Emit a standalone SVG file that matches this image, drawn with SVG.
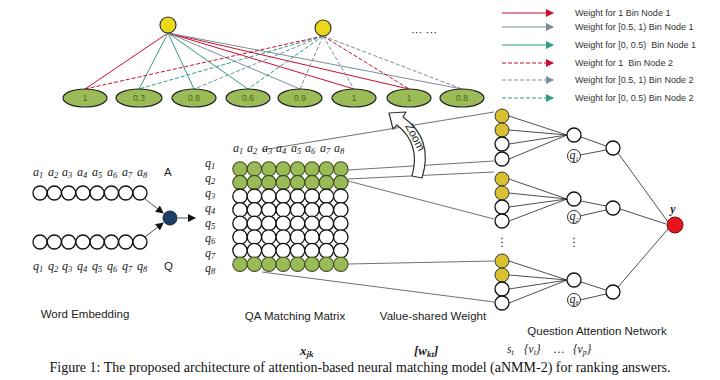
<svg xmlns="http://www.w3.org/2000/svg" width="720" height="380" viewBox="0 0 720 380">
<defs>
<marker id="mr" markerWidth="8" markerHeight="8" refX="7" refY="4" orient="auto" markerUnits="userSpaceOnUse"><path d="M0,0 L8,4 L0,8 z" fill="#c8102e"/></marker>
<marker id="mg" markerWidth="8" markerHeight="8" refX="7" refY="4" orient="auto" markerUnits="userSpaceOnUse"><path d="M0,0 L8,4 L0,8 z" fill="#7a8ea0"/></marker>
<marker id="mt" markerWidth="8" markerHeight="8" refX="7" refY="4" orient="auto" markerUnits="userSpaceOnUse"><path d="M0,0 L8,4 L0,8 z" fill="#2f9e80"/></marker>
<marker id="mk" markerWidth="8" markerHeight="8" refX="7" refY="4" orient="auto" markerUnits="userSpaceOnUse"><path d="M0,0 L8,4 L0,8 z" fill="#111"/></marker>
</defs>
<style>
.lab{font-family:"Liberation Sans","DejaVu Sans",sans-serif;font-size:11.5px;fill:#222}
.leg{font-family:"Liberation Sans","DejaVu Sans",sans-serif;font-size:9px;fill:#333}
.m{font-family:"Liberation Serif","DejaVu Serif",serif;font-style:italic;font-size:12px;fill:#222}
.cap{font-family:"Liberation Serif","DejaVu Serif",serif;font-size:14px;fill:#111}
.ell{fill:#9bbb59;stroke:#222;stroke-width:1.2}
.elt{font-family:"Liberation Sans",sans-serif;font-size:8.5px;fill:#4a6a10;text-anchor:middle}
.yel{fill:#ecd81a;stroke:#333;stroke-width:1.2}
.gold{fill:#d8c030;stroke:#333;stroke-width:1}
.wc{fill:#fff;stroke:#111;stroke-width:1.3}
.gc{fill:#9bbb59;stroke:#3d4f1e;stroke-width:1.1}
.r{stroke:#c8102e;stroke-width:1;fill:none}
.g{stroke:#7a8ea0;stroke-width:1;fill:none}
.t{stroke:#2f9e80;stroke-width:1;fill:none}
.d{stroke-dasharray:4,2}
.k{stroke:#222;stroke-width:0.8;fill:none}
.kz{stroke:#333;stroke-width:0.7;fill:none}
</style>
<rect width="720" height="380" fill="#fff"/>

<!-- connectors -->
<g id="connectors">
<!-- bin node 1 edges -->
<line class="r" x1="168" y1="33" x2="85" y2="89"/>
<line class="t" x1="168" y1="33" x2="139" y2="89"/>
<line class="t" x1="168" y1="33" x2="194" y2="89"/>
<line class="t" x1="168" y1="33" x2="248" y2="89"/>
<line class="g" x1="168" y1="33" x2="300" y2="89"/>
<line class="r" x1="168" y1="33" x2="354" y2="89"/>
<line class="r" x1="168" y1="33" x2="409" y2="89"/>
<line class="g" x1="168" y1="33" x2="462" y2="89"/>
<!-- bin node 2 edges -->
<line class="r d" x1="323" y1="36" x2="85" y2="89"/>
<line class="t d" x1="323" y1="36" x2="139" y2="89"/>
<line class="g d" x1="323" y1="36" x2="194" y2="89"/>
<line class="t d" x1="323" y1="36" x2="248" y2="89"/>
<line class="g d" x1="323" y1="36" x2="300" y2="89"/>
<line class="g d" x1="323" y1="36" x2="354" y2="89"/>
<line class="r d" x1="323" y1="36" x2="409" y2="89"/>
<line class="g d" x1="323" y1="36" x2="462" y2="89"/>

<!-- legend -->
<line class="r" x1="502" y1="13" x2="553" y2="13" marker-end="url(#mr)"/>
<line class="g" x1="502" y1="27" x2="553" y2="27" marker-end="url(#mg)"/>
<line class="t" x1="502" y1="45" x2="553" y2="45" marker-end="url(#mt)"/>
<line class="r d" x1="502" y1="63" x2="553" y2="63" marker-end="url(#mr)"/>
<line class="g d" x1="502" y1="80" x2="553" y2="80" marker-end="url(#mg)"/>
<line class="t d" x1="502" y1="98" x2="553" y2="98" marker-end="url(#mt)"/>

<!-- word embedding to matching -->
<line class="k" x1="145" y1="199" x2="163" y2="213" marker-end="url(#mk)"/>
<line class="k" x1="145" y1="237" x2="163" y2="223" marker-end="url(#mk)"/>
<line class="k" x1="178" y1="218" x2="195" y2="218" marker-end="url(#mk)"/>

<!-- zoom lines -->
<line class="kz" x1="262" y1="150" x2="494" y2="112"/>
<line class="kz" x1="348" y1="170" x2="494" y2="161"/>
<line class="kz" x1="348" y1="179" x2="494" y2="172"/>
<line class="kz" x1="348" y1="181" x2="494" y2="219"/>
<line class="kz" x1="348" y1="264" x2="494" y2="261"/>
<line class="kz" x1="262" y1="272" x2="494" y2="302"/>

<!-- attention network -->
<g class="k">
<line x1="509" y1="116" x2="567" y2="135"/><line x1="509" y1="130" x2="567" y2="135"/><line x1="509" y1="144" x2="567" y2="135"/><line x1="509" y1="159" x2="567" y2="135"/>
<line x1="509" y1="179" x2="567" y2="199"/><line x1="509" y1="193" x2="567" y2="199"/><line x1="509" y1="207" x2="567" y2="199"/><line x1="509" y1="221" x2="567" y2="199"/>
<line x1="509" y1="261" x2="567" y2="280"/><line x1="509" y1="275" x2="567" y2="280"/><line x1="509" y1="289" x2="567" y2="280"/><line x1="509" y1="303" x2="567" y2="280"/>
<line x1="581" y1="137" x2="606" y2="146"/><line x1="580" y1="155" x2="606" y2="150"/>
<line x1="581" y1="201" x2="606" y2="206"/><line x1="580" y1="216" x2="606" y2="210"/>
<line x1="581" y1="282" x2="606" y2="290"/><line x1="580" y1="300" x2="606" y2="294"/>
<line x1="618" y1="153" x2="668" y2="222"/>
<line x1="620" y1="209" x2="666" y2="224"/>
<line x1="618" y1="287" x2="668" y2="229"/>
</g>
</g>

<!-- top bin nodes -->
<g id="bin1"><circle class="yel" cx="168" cy="25" r="8"/></g>
<g id="bin2"><circle class="yel" cx="323" cy="28" r="8"/></g>
<g id="more"><text class="lab" x="424" y="36" text-anchor="middle" font-size="9">··· ···</text></g>

<!-- ellipses -->
<g id="ellipses">
<ellipse class="ell" cx="85" cy="98" rx="22" ry="9"/><text class="elt" x="85" y="101">1</text>
<ellipse class="ell" cx="139" cy="98" rx="23" ry="9"/><text class="elt" x="139" y="101">0.3</text>
<ellipse class="ell" cx="194" cy="98" rx="22" ry="9"/><text class="elt" x="194" y="101">0.8</text>
<ellipse class="ell" cx="248" cy="98" rx="22" ry="9"/><text class="elt" x="248" y="101">0.6</text>
<ellipse class="ell" cx="300" cy="98" rx="22" ry="9"/><text class="elt" x="300" y="101">0.9</text>
<ellipse class="ell" cx="354" cy="98" rx="22" ry="9"/><text class="elt" x="354" y="101">1</text>
<ellipse class="ell" cx="409" cy="98" rx="22" ry="9"/><text class="elt" x="409" y="101">1</text>
<ellipse class="ell" cx="462" cy="98" rx="22" ry="9"/><text class="elt" x="462" y="101">0.8</text>
</g>

<!-- legend texts -->
<g id="legend">
<text class="leg" x="575" y="16">Weight for 1 Bin Node 1</text>
<text class="leg" x="575" y="30">Weight for [0.5, 1) Bin Node 1</text>
<text class="leg" x="575" y="48" xml:space="preserve">Weight for [0, 0.5)  Bin Node 1</text>
<text class="leg" x="575" y="66" xml:space="preserve">Weight for 1  Bin Node 2</text>
<text class="leg" x="575" y="83">Weight for [0.5, 1) Bin Node 2</text>
<text class="leg" x="575" y="101">Weight for [0, 0.5) Bin Node 2</text>
</g>

<!-- word embedding -->
<g id="word-embedding">
<g class="m">
<text x="33" y="176">a<tspan font-size="8.5" dy="2">1</tspan></text>
<text x="48" y="176">a<tspan font-size="8.5" dy="2">2</tspan></text>
<text x="62" y="176">a<tspan font-size="8.5" dy="2">3</tspan></text>
<text x="77" y="176">a<tspan font-size="8.5" dy="2">4</tspan></text>
<text x="92" y="176">a<tspan font-size="8.5" dy="2">5</tspan></text>
<text x="107" y="176">a<tspan font-size="8.5" dy="2">6</tspan></text>
<text x="122" y="176">a<tspan font-size="8.5" dy="2">7</tspan></text>
<text x="137" y="176">a<tspan font-size="8.5" dy="2">8</tspan></text>
<text x="33" y="270">q<tspan font-size="8.5" dy="2">1</tspan></text>
<text x="48" y="270">q<tspan font-size="8.5" dy="2">2</tspan></text>
<text x="62" y="270">q<tspan font-size="8.5" dy="2">3</tspan></text>
<text x="77" y="270">q<tspan font-size="8.5" dy="2">4</tspan></text>
<text x="92" y="270">q<tspan font-size="8.5" dy="2">5</tspan></text>
<text x="107" y="270">q<tspan font-size="8.5" dy="2">6</tspan></text>
<text x="122" y="270">q<tspan font-size="8.5" dy="2">7</tspan></text>
<text x="137" y="270">q<tspan font-size="8.5" dy="2">8</tspan></text>
</g>
<text class="lab" x="164" y="176">A</text>
<text class="lab" x="164" y="270">Q</text>
<g class="wc">
<circle cx="40" cy="193" r="7"/><circle cx="54.3" cy="193" r="7"/><circle cx="68.6" cy="193" r="7"/><circle cx="82.9" cy="193" r="7"/><circle cx="97.1" cy="193" r="7"/><circle cx="111.4" cy="193" r="7"/><circle cx="125.7" cy="193" r="7"/><circle cx="140" cy="193" r="7"/>
<circle cx="40" cy="242" r="7"/><circle cx="54.3" cy="242" r="7"/><circle cx="68.6" cy="242" r="7"/><circle cx="82.9" cy="242" r="7"/><circle cx="97.1" cy="242" r="7"/><circle cx="111.4" cy="242" r="7"/><circle cx="125.7" cy="242" r="7"/><circle cx="140" cy="242" r="7"/>
</g>
<text class="lab" x="85" y="318" text-anchor="middle">Word Embedding</text>
</g>
<g id="interaction"><circle cx="170" cy="218" r="7" fill="#1f3f66" stroke="#10243c" stroke-width="1"/></g>

<!-- matching matrix -->
<g id="matrix">
<g class="m">
<text x="233" y="152">a<tspan font-size="8.5" dy="2">1</tspan></text>
<text x="247" y="152">a<tspan font-size="8.5" dy="2">2</tspan></text>
<text x="262" y="152">a<tspan font-size="8.5" dy="2">3</tspan></text>
<text x="276" y="152">a<tspan font-size="8.5" dy="2">4</tspan></text>
<text x="291" y="152">a<tspan font-size="8.5" dy="2">5</tspan></text>
<text x="305" y="152">a<tspan font-size="8.5" dy="2">6</tspan></text>
<text x="320" y="152">a<tspan font-size="8.5" dy="2">7</tspan></text>
<text x="334" y="152">a<tspan font-size="8.5" dy="2">8</tspan></text>
<text x="205" y="167">q<tspan font-size="8.5" dy="2">1</tspan></text>
<text x="205" y="182">q<tspan font-size="8.5" dy="2">2</tspan></text>
<text x="205" y="197">q<tspan font-size="8.5" dy="2">3</tspan></text>
<text x="205" y="212">q<tspan font-size="8.5" dy="2">4</tspan></text>
<text x="205" y="227">q<tspan font-size="8.5" dy="2">5</tspan></text>
<text x="205" y="242">q<tspan font-size="8.5" dy="2">6</tspan></text>
<text x="205" y="257">q<tspan font-size="8.5" dy="2">7</tspan></text>
<text x="205" y="272">q<tspan font-size="8.5" dy="2">8</tspan></text>
</g>
<g class="gc">
<circle cx="240" cy="169" r="7.2"/><circle cx="254.4" cy="169" r="7.2"/><circle cx="268.8" cy="169" r="7.2"/><circle cx="283.2" cy="169" r="7.2"/><circle cx="297.6" cy="169" r="7.2"/><circle cx="312" cy="169" r="7.2"/><circle cx="326.4" cy="169" r="7.2"/><circle cx="340.8" cy="169" r="7.2"/>
<circle cx="240" cy="182.6" r="7.2"/><circle cx="254.4" cy="182.6" r="7.2"/><circle cx="268.8" cy="182.6" r="7.2"/><circle cx="283.2" cy="182.6" r="7.2"/><circle cx="297.6" cy="182.6" r="7.2"/><circle cx="312" cy="182.6" r="7.2"/><circle cx="326.4" cy="182.6" r="7.2"/><circle cx="340.8" cy="182.6" r="7.2"/>
</g>
<g class="wc">
<circle cx="240" cy="196.2" r="7.2"/><circle cx="254.4" cy="196.2" r="7.2"/><circle cx="268.8" cy="196.2" r="7.2"/><circle cx="283.2" cy="196.2" r="7.2"/><circle cx="297.6" cy="196.2" r="7.2"/><circle cx="312" cy="196.2" r="7.2"/><circle cx="326.4" cy="196.2" r="7.2"/><circle cx="340.8" cy="196.2" r="7.2"/>
<circle cx="240" cy="209.8" r="7.2"/><circle cx="254.4" cy="209.8" r="7.2"/><circle cx="268.8" cy="209.8" r="7.2"/><circle cx="283.2" cy="209.8" r="7.2"/><circle cx="297.6" cy="209.8" r="7.2"/><circle cx="312" cy="209.8" r="7.2"/><circle cx="326.4" cy="209.8" r="7.2"/><circle cx="340.8" cy="209.8" r="7.2"/>
<circle cx="240" cy="223.4" r="7.2"/><circle cx="254.4" cy="223.4" r="7.2"/><circle cx="268.8" cy="223.4" r="7.2"/><circle cx="283.2" cy="223.4" r="7.2"/><circle cx="297.6" cy="223.4" r="7.2"/><circle cx="312" cy="223.4" r="7.2"/><circle cx="326.4" cy="223.4" r="7.2"/><circle cx="340.8" cy="223.4" r="7.2"/>
<circle cx="240" cy="237" r="7.2"/><circle cx="254.4" cy="237" r="7.2"/><circle cx="268.8" cy="237" r="7.2"/><circle cx="283.2" cy="237" r="7.2"/><circle cx="297.6" cy="237" r="7.2"/><circle cx="312" cy="237" r="7.2"/><circle cx="326.4" cy="237" r="7.2"/><circle cx="340.8" cy="237" r="7.2"/>
<circle cx="240" cy="250.6" r="7.2"/><circle cx="254.4" cy="250.6" r="7.2"/><circle cx="268.8" cy="250.6" r="7.2"/><circle cx="283.2" cy="250.6" r="7.2"/><circle cx="297.6" cy="250.6" r="7.2"/><circle cx="312" cy="250.6" r="7.2"/><circle cx="326.4" cy="250.6" r="7.2"/><circle cx="340.8" cy="250.6" r="7.2"/>
</g>
<g class="gc">
<circle cx="240" cy="264.2" r="7.2"/><circle cx="254.4" cy="264.2" r="7.2"/><circle cx="268.8" cy="264.2" r="7.2"/><circle cx="283.2" cy="264.2" r="7.2"/><circle cx="297.6" cy="264.2" r="7.2"/><circle cx="312" cy="264.2" r="7.2"/><circle cx="326.4" cy="264.2" r="7.2"/><circle cx="340.8" cy="264.2" r="7.2"/>
</g>
<text class="lab" x="295" y="320" text-anchor="middle">QA Matching Matrix</text>
</g>

<!-- zoom arrow -->
<g id="zoom">
<path d="M389,113 L406,112 L403,117 Q434,139 422,178 L412,176 Q421,144 397,125 L393,129 Z" fill="#fff" stroke="#333" stroke-width="1.2" stroke-linejoin="round"/>
<text class="lab" font-size="8.5" transform="translate(405,126) rotate(62)">Zoom</text>
</g>
<text class="lab" x="433" y="320" text-anchor="middle">Value-shared Weight</text>

<!-- value-shared weight columns -->
<g id="vsw1">
<circle class="gold" cx="502" cy="116" r="7"/><circle class="gold" cx="502" cy="130" r="7"/><circle class="wc" cx="502" cy="144" r="7"/><circle class="wc" cx="502" cy="159" r="7"/>
</g>
<g id="vsw2">
<circle class="gold" cx="502" cy="179" r="7"/><circle class="gold" cx="502" cy="193" r="7"/><circle class="wc" cx="502" cy="207" r="7"/><circle class="wc" cx="502" cy="221" r="7"/>
</g>
<g id="vsw8">
<circle class="gold" cx="502" cy="261" r="7"/><circle class="gold" cx="502" cy="275" r="7"/><circle class="wc" cx="502" cy="289" r="7"/><circle class="wc" cx="502" cy="303" r="7"/>
</g>
<text class="lab" x="502" y="246" text-anchor="middle" font-size="11">⋮</text>
<text class="lab" x="574" y="246" text-anchor="middle" font-size="11">⋮</text>

<!-- attention network nodes -->
<g id="h1"><circle class="wc" cx="574" cy="135" r="7"/></g>
<g id="h2"><circle class="wc" cx="574" cy="199" r="7"/></g>
<g id="h8"><circle class="wc" cx="574" cy="280" r="7"/></g>
<g id="gq1"><circle cx="574" cy="156" r="6.5" fill="#fff" stroke="#333" stroke-width="1"/><text class="m" x="574" y="159" font-size="8" text-anchor="middle">q<tspan font-size="6" dy="1.5">1</tspan></text></g>
<g id="gq2"><circle cx="574" cy="217" r="6.5" fill="#fff" stroke="#333" stroke-width="1"/><text class="m" x="574" y="220" font-size="8" text-anchor="middle">q<tspan font-size="6" dy="1.5">2</tspan></text></g>
<g id="gq8"><circle cx="574" cy="300" r="6.5" fill="#fff" stroke="#333" stroke-width="1"/><text class="m" x="574" y="303" font-size="8" text-anchor="middle">q<tspan font-size="6" dy="1.5">8</tspan></text></g>
<g id="o1"><circle class="wc" cx="613" cy="148" r="7"/></g>
<g id="o2"><circle class="wc" cx="613" cy="208" r="7"/></g>
<g id="o8"><circle class="wc" cx="613" cy="292" r="7"/></g>
<g id="y"><circle cx="675" cy="225" r="8" fill="#e8141e" stroke="#7a1010" stroke-width="1"/><text class="m" x="673" y="213" font-weight="bold" font-size="11" text-anchor="middle">y</text></g>
<text class="lab" x="597" y="335" text-anchor="middle">Question Attention Network</text>

<!-- bottom math labels -->
<g class="m">
<text x="300" y="355" font-weight="bold" font-size="13">x<tspan font-size="9" dy="2">jk</tspan></text>
<text x="414" y="355" font-weight="bold" font-size="13">[w<tspan font-size="9" dy="2">kt</tspan><tspan dy="-2">]</tspan></text>
<text x="507" y="353" font-size="11.5">s<tspan font-size="8" dy="2">t</tspan></text>
<text x="524" y="353" font-size="11.5">{v<tspan font-size="8" dy="2">t</tspan><tspan dy="-2">}</tspan></text>
<text x="554" y="353" font-size="11.5">…</text>
<text x="573" y="353" font-size="11.5">{v<tspan font-size="8" dy="2">p</tspan><tspan dy="-2">}</tspan></text>
</g>

<text class="cap" x="360" y="372" text-anchor="middle">Figure 1: The proposed architecture of attention-based neural matching model (aNMM-2) for ranking answers.</text>
</svg>
